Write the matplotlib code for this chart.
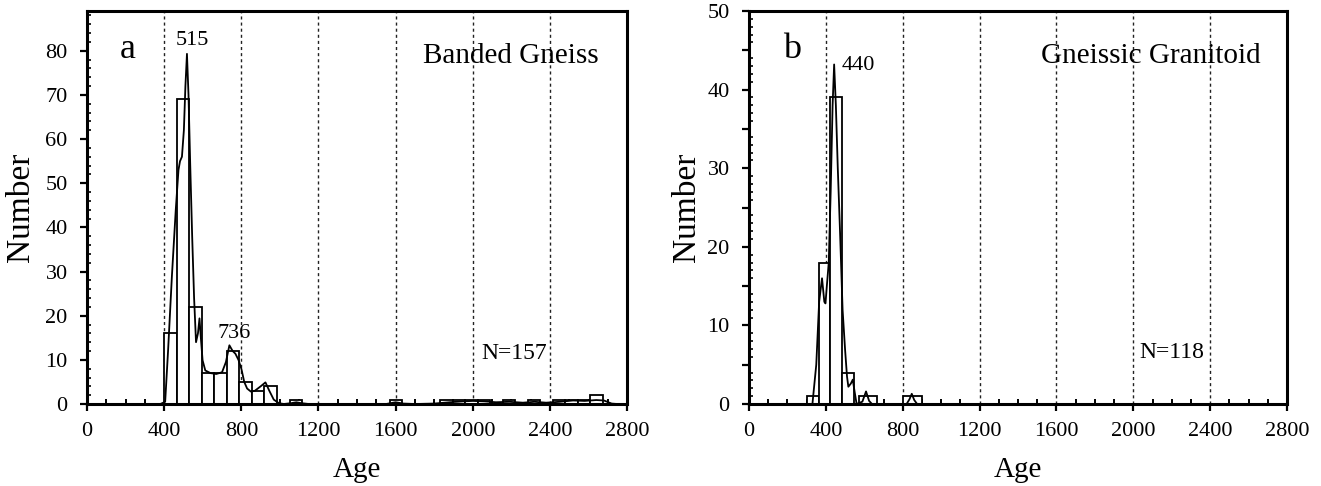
import matplotlib
matplotlib.use("Agg")
import matplotlib.pyplot as plt
from matplotlib.ticker import MultipleLocator, FuncFormatter

plt.rcParams['font.family'] = ['Liberation Serif', 'DejaVu Serif']

# ---------------- data ----------------
# Panel a: Banded Gneiss histogram (bin left/right edges in Ma, counts)
a_left = [400, 465, 530, 595, 660, 725, 790, 855, 920, 1050, 1570,
          1830, 1895, 1960, 2025, 2155, 2285, 2415, 2480, 2545, 2610]
a_right = [465, 530, 595, 660, 725, 790, 855, 920, 985, 1115, 1635,
           1895, 1960, 2025, 2090, 2220, 2350, 2480, 2545, 2610, 2675]
a_counts = [16, 69, 22, 7, 7, 12, 5, 3, 4, 1, 1,
            1, 1, 1, 1, 1, 1, 1, 1, 1, 2]
# Panel a: probability curve
a_curve_age = [380, 405, 420, 440, 460, 474, 482, 492, 502, 510, 518, 526, 535,
               545, 555, 565, 575, 583, 590, 599, 613, 640, 670, 700, 720, 738,
               755, 769, 785, 800, 815, 830, 850, 870, 900, 925, 945, 968, 994,
               1020, 1060, 1085, 1110, 1150, 1550, 1600, 1640, 1700, 1800, 1880,
               1950, 2000, 2060, 2120, 2190, 2260, 2320, 2380, 2450, 2520, 2580,
               2640, 2680, 2720, 2750]
a_curve_val = [0, 0.5, 12, 29, 44, 53, 55, 56, 62, 72, 79.3, 70, 54,
               38, 24, 14, 16, 19.4, 15, 9.9, 7.6, 7, 6.8, 7.2, 9.5, 13.3,
               12, 11.4, 10, 8, 5, 3.5, 2.8, 3, 4, 4.9, 3, 1, 0.2,
               0, 0.2, 0.4, 0.2, 0, 0, 0.4, 0.1, 0, 0.1, 0.4,
               0.6, 0.7, 0.6, 0.4, 0.5, 0.3, 0.5, 0.3, 0.5, 0.8, 0.7,
               0.9, 0.8, 0.1, 0]

# Panel b: Gneissic Granitoid histogram
b_left = [300, 362, 422, 484, 570, 800]
b_right = [362, 422, 484, 546, 665, 900]
b_counts = [1, 18, 39, 4, 1, 1]
# Panel b: probability curve
b_curve_age = [330, 350, 365, 380, 392, 398, 405, 415, 425, 435, 443, 452, 462,
               474, 487, 500, 510, 517, 530, 540, 550, 560, 590, 609, 625, 640,
               820, 835, 847, 860, 875]
b_curve_val = [0, 5, 13, 16, 13, 12.8, 15, 18, 27, 38, 43.2, 38, 30,
               21.7, 12, 6.9, 3.5, 2.2, 2.6, 3.1, 1.5, 0, 0.3, 1.6, 0.4, 0,
               0, 0.6, 1.3, 0.5, 0]

grid_ages = [400, 800, 1200, 1600, 2000, 2400]
x_ticks = [0, 400, 800, 1200, 1600, 2000, 2400, 2800]

# ---------------- figure ----------------
fig = plt.figure(figsize=(13.21, 4.86), dpi=100)
ax_a = fig.add_axes([0.0659, 0.1687, 0.4088, 0.8086])
ax_b = fig.add_axes([0.5670, 0.1687, 0.4073, 0.8086])

TICK_FS = 16
LABEL_FS = 21


def style(ax, ymax, ymajor, yminor, ylabel_every):
    ax.set_xlim(0, 2800)
    ax.set_ylim(0, ymax)
    for g in grid_ages:
        ax.axvline(g, color='#222222', lw=1.0, ls=(0, (2.2, 2.2)), zorder=0)
    for s in ax.spines.values():
        s.set_linewidth(2.2)
    ax.set_xticks(x_ticks)
    ax.xaxis.set_minor_locator(MultipleLocator(100))
    ax.yaxis.set_major_locator(MultipleLocator(ymajor))
    ax.yaxis.set_minor_locator(MultipleLocator(yminor))
    ax.yaxis.set_major_formatter(FuncFormatter(
        lambda v, p: f"{int(round(v))}" if int(round(v)) % ylabel_every == 0 else ""))
    ax.tick_params(axis='x', which='major', direction='out', length=5, width=1.6,
                   labelsize=TICK_FS, pad=8)
    ax.tick_params(axis='x', which='minor', direction='in', length=3.5, width=1.4)
    ax.tick_params(axis='y', which='major', direction='out', length=5, width=1.6,
                   labelsize=TICK_FS, pad=9)
    ax.tick_params(axis='y', which='minor', direction='in', length=3, width=1.2)
    ax.set_xlabel('Age', fontsize=LABEL_FS)
    ax.set_ylabel('Number', fontsize=24)
    ax.xaxis.set_label_coords(0.5, -0.135)


# Panel a
ax_a.bar(a_left, a_counts, width=[r - l for l, r in zip(a_left, a_right)],
         align='edge', facecolor='white', edgecolor='black', linewidth=1.3, zorder=2)
ax_a.plot(a_curve_age, a_curve_val, color='black', lw=1.3, zorder=3)
style(ax_a, 89, 10, 2, 10)
ax_a.yaxis.set_label_coords(-0.094, 0.5)
ax_a.text(212, 78.3, 'a', fontsize=26, ha='center', va='baseline')
ax_a.text(457, 81.2, '515', fontsize=16, ha='left', va='baseline')
ax_a.text(674, 14.9, '736', fontsize=16, ha='left', va='baseline')
ax_a.text(2652, 77.2, 'Banded Gneiss', fontsize=21, ha='right', va='baseline')
ax_a.text(2042, 10.3, 'N=157', fontsize=17, ha='left', va='baseline')

# Panel b
ax_b.bar(b_left, b_counts, width=[r - l for l, r in zip(b_left, b_right)],
         align='edge', facecolor='white', edgecolor='black', linewidth=1.3, zorder=2)
ax_b.plot(b_curve_age, b_curve_val, color='black', lw=1.3, zorder=3)
style(ax_b, 50, 5, 1, 10)
ax_b.yaxis.set_label_coords(-0.088, 0.5)
ax_b.text(224, 44.0, 'b', fontsize=26, ha='center', va='baseline')
ax_b.text(481, 42.5, '440', fontsize=16, ha='left', va='baseline')
ax_b.text(2665, 43.35, 'Gneissic Granitoid', fontsize=21, ha='right', va='baseline')
ax_b.text(2033, 5.85, 'N=118', fontsize=17, ha='left', va='baseline')

fig.savefig('out.png', dpi=100)
